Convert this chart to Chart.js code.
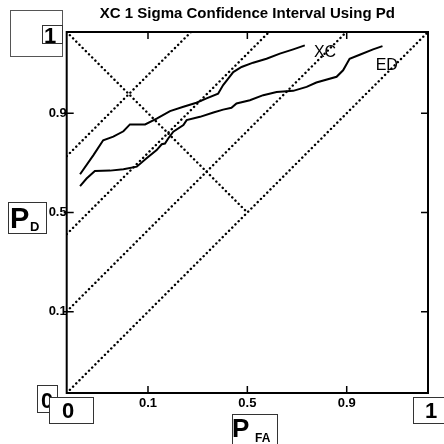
<!DOCTYPE html>
<html>
<head>
<meta charset="utf-8">
<title>XC 1 Sigma Confidence Interval Using Pd</title>
<script src="https://cdn.jsdelivr.net/npm/chart.js@4.4.0/dist/chart.umd.min.js"></script>
<style>
    html, body { margin: 0; padding: 0; background: #fff; }
    canvas { display: block; }
</style>
</head>
<body>
<canvas id="rocChart" width="444" height="444"></canvas>
<script>
// Tick positions on the normal-deviate axes and the probabilities they stand for
const tickPos = [0.225, 0.5, 0.775];
const tickLabels = ['0.1', '0.5', '0.9'];

// XC curve
const xcPfa = [0.037, 0.074, 0.101, 0.129, 0.157, 0.175, 0.217, 0.249, 0.286, 0.323, 0.359,
    0.387, 0.419, 0.433, 0.447, 0.461, 0.484, 0.516, 0.553, 0.590, 0.627, 0.659];
const xcPd = [0.606, 0.659, 0.700, 0.710, 0.725, 0.744, 0.744, 0.760, 0.781, 0.793, 0.804,
    0.816, 0.829, 0.853, 0.871, 0.889, 0.903, 0.915, 0.926, 0.940, 0.952, 0.963];

// ED curve
const edPfa = [0.037, 0.055, 0.078, 0.120, 0.157, 0.194, 0.221, 0.249, 0.263, 0.272, 0.281,
    0.295, 0.323, 0.332, 0.369, 0.406, 0.433, 0.456, 0.470, 0.507, 0.544, 0.581, 0.627,
    0.664, 0.691, 0.747, 0.765, 0.783, 0.811, 0.848, 0.874];
const edPd = [0.573, 0.594, 0.615, 0.616, 0.620, 0.627, 0.650, 0.673, 0.689, 0.691, 0.705,
    0.724, 0.742, 0.756, 0.765, 0.777, 0.785, 0.790, 0.802, 0.811, 0.825, 0.834, 0.837,
    0.848, 0.860, 0.876, 0.894, 0.926, 0.937, 0.952, 0.961];

// d' reference lines: offset above the chance diagonal
const dPrimeOffsets = [0, 0.226, 0.44, 0.656];

// Minus diagonal
const minusDiagPfa = [0, 0.5];
const minusDiagPd = [1, 0.5];

((document) => {
    'use strict';

    function toPoints(xs, ys) {
        return xs.map((x, i) => ({ x: x, y: ys[i] }));
    }

    let dottedStyle = {
        showLine: true,
        pointRadius: 0,
        borderColor: '#000',
        borderWidth: 2.4,
        borderDash: [0.1, 4.4],
        borderCapStyle: 'round',
        tension: 0
    };

    let solidStyle = {
        showLine: true,
        pointRadius: 0,
        borderColor: '#000',
        borderWidth: 2,
        tension: 0
    };

    let datasets = [];

    // Reference lines of equal d'
    dPrimeOffsets.forEach(function (o) {
        datasets.push(Object.assign({
            label: 'd ' + o,
            data: toPoints([0, 1 - o], [o, 1])
        }, dottedStyle));
    });

    datasets.push(Object.assign({
        label: 'minus diagonal',
        data: toPoints(minusDiagPfa, minusDiagPd)
    }, dottedStyle));

    datasets.push(Object.assign({ label: 'XC', data: toPoints(xcPfa, xcPd) }, solidStyle));
    datasets.push(Object.assign({ label: 'ED', data: toPoints(edPfa, edPd) }, solidStyle));

    // Box with text (used for the axis end labels)
    function boxText(ctx, x, y, w, h, text, font, tx, ty) {
        ctx.fillStyle = '#fff';
        ctx.fillRect(x, y, w, h);
        ctx.strokeStyle = '#333';
        ctx.lineWidth = 1;
        ctx.strokeRect(x + 0.5, y + 0.5, w, h);
        ctx.fillStyle = '#000';
        ctx.font = font;
        ctx.textAlign = 'left';
        ctx.textBaseline = 'alphabetic';
        ctx.fillText(text, tx, ty);
    }

    // Frame, inward ticks, title and labels
    const decorPlugin = {
        id: 'decor',
        afterDraw: function (chart) {
            let ctx = chart.ctx;
            let area = chart.chartArea;
            let xs = chart.scales.x;
            let ys = chart.scales.y;
            let tl = 7;

            ctx.save();
            ctx.strokeStyle = '#000';
            ctx.lineWidth = 2;
            ctx.strokeRect(area.left, area.top, area.right - area.left, area.bottom - area.top);

            ctx.lineWidth = 1.5;
            ctx.beginPath();
            tickPos.forEach(function (v) {
                let px = xs.getPixelForValue(v);
                let py = ys.getPixelForValue(v);
                ctx.moveTo(px, area.bottom);
                ctx.lineTo(px, area.bottom - tl);
                ctx.moveTo(px, area.top);
                ctx.lineTo(px, area.top + tl);
                ctx.moveTo(area.left - 3, py);
                ctx.lineTo(area.left + tl, py);
                ctx.moveTo(area.right, py);
                ctx.lineTo(area.right - tl, py);
            });
            ctx.stroke();

            // Title
            ctx.fillStyle = '#000';
            ctx.font = 'bold 15px "Liberation Sans", Arial, sans-serif';
            ctx.textAlign = 'center';
            ctx.textBaseline = 'middle';
            ctx.fillText('XC 1 Sigma Confidence Interval Using Pd', (area.left + area.right) / 2, 14);

            // Curve names
            ctx.font = '16px "Liberation Sans", Arial, sans-serif';
            ctx.fillText('XC', xs.getPixelForValue(0.715), ys.getPixelForValue(0.944));
            ctx.fillText('ED', xs.getPixelForValue(0.886), ys.getPixelForValue(0.906));

            // Axis end labels in boxes
            ctx.strokeStyle = '#555';
            ctx.lineWidth = 1;
            ctx.strokeRect(10.5, 10.5, 52, 46);
            boxText(ctx, 42, 25, 20, 18, '1', 'bold 22px "Liberation Sans", Arial, sans-serif', 44, 43);
            boxText(ctx, 37, 385, 20, 27, '0', 'bold 22px "Liberation Sans", Arial, sans-serif', 41, 408);
            boxText(ctx, 49, 397, 44, 26, '0', 'bold 22px "Liberation Sans", Arial, sans-serif', 62, 418);
            boxText(ctx, 413, 397, 33, 26, '1', 'bold 22px "Liberation Sans", Arial, sans-serif', 425, 418);

            boxText(ctx, 232, 414, 45, 32, 'P', 'bold 26px "Liberation Sans", Arial, sans-serif', 232, 437);
            ctx.font = 'bold 12px "Liberation Sans", Arial, sans-serif';
            ctx.fillText('FA', 255, 442);

            boxText(ctx, 8, 202, 38, 31, 'P', 'bold 29px "Liberation Sans", Arial, sans-serif', 10, 228);
            ctx.font = 'bold 13px "Liberation Sans", Arial, sans-serif';
            ctx.fillText('D', 30, 231);
            ctx.restore();
        }
    };

    let tickFont = { family: 'Liberation Sans', size: 13, weight: 'bold' };

    let config = {
        type: 'scatter',
        data: { datasets: datasets },
        options: {
            responsive: false,
            animation: false,
            layout: {
                padding: { left: 0, top: 32, right: 16, bottom: 0 }
            },
            plugins: {
                legend: { display: false },
                title: { display: false },
                tooltip: { enabled: false }
            },
            scales: {
                x: {
                    type: 'linear',
                    min: 0,
                    max: 1,
                    afterBuildTicks: function (scale) {
                        scale.ticks = tickPos.map(v => ({ value: v }));
                    },
                    afterFit: function (scale) {
                        scale.height = 51;
                    },
                    grid: { display: false, drawTicks: false },
                    border: { display: false },
                    ticks: {
                        autoSkip: false,
                        maxRotation: 0,
                        padding: 3,
                        color: '#000',
                        font: tickFont,
                        callback: function (value, index) {
                            return tickLabels[index];
                        }
                    }
                },
                y: {
                    type: 'linear',
                    min: 0,
                    max: 1,
                    afterBuildTicks: function (scale) {
                        scale.ticks = tickPos.map(v => ({ value: v }));
                    },
                    afterFit: function (scale) {
                        scale.width = 66.7;
                    },
                    grid: { display: false, drawTicks: false },
                    border: { display: false },
                    ticks: {
                        autoSkip: false,
                        padding: 0,
                        color: '#000',
                        font: tickFont,
                        callback: function (value, index) {
                            return tickLabels[index];
                        }
                    }
                }
            }
        },
        plugins: [decorPlugin]
    };

    // Draw Chart
    new Chart(document.getElementById('rocChart'), config);
})(document);
</script>
</body>
</html>
